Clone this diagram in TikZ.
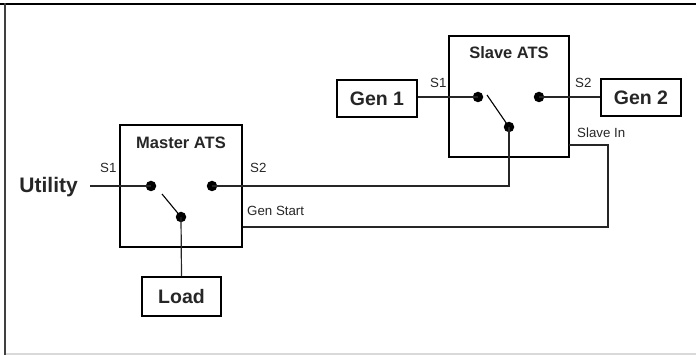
\documentclass[tikz,border=0pt]{standalone}
\usepackage{fontspec}
\setmainfont{Liberation Sans}
\begin{document}
\begin{tikzpicture}[x=1pt,y=-1pt,
  box/.style={draw=black,line width=1.2pt,inner sep=0pt,fill=none},
  bigtxt/.style={font=\fontsize{19.5}{22}\selectfont\bfseries,text=black!85,inner sep=0pt},
  ttltxt/.style={font=\fontsize{16.5}{18}\selectfont\bfseries,text=black!85,inner sep=0pt},
  smalltxt/.style={font=\fontsize{13.3}{15}\selectfont,text=black!85,inner sep=0pt,anchor=west},
  pin/.style={circle,fill=black,inner sep=0pt,minimum size=10.5pt},
  wire/.style={line width=1.2pt,draw=black!85},
  blade/.style={line width=1.1pt,draw=black}]
\useasboundingbox (0,0) rectangle (696,355);
% frame
\draw[line width=2pt,black] (0,4.5) -- (696,4.5);
\draw[line width=2pt,black!75] (4.5,3.5) -- (4.5,355);
\draw[line width=2pt,black!15] (5.5,353.5) -- (696,353.5);
% boxes
\node[box,minimum width=122pt,minimum height=122pt] (master) at (181,186) {};
\node[box,minimum width=120pt,minimum height=121pt] (slave) at (509,96.5) {};
\node[box,minimum width=80pt,minimum height=37pt] (gen1) at (377,98.5) {};
\node[bigtxt] at (gen1) {Gen 1};
\node[box,minimum width=80pt,minimum height=37pt] (gen2) at (641,97.5) {};
\node[bigtxt] at (gen2) {Gen 2};
\node[box,minimum width=79pt,minimum height=39pt] (load) at (181.5,296.5) {};
\node[bigtxt] at (load) {Load};
\node[ttltxt] (mtitle) at (181,143) {Master ATS};
\node[ttltxt] (stitle) at (509,53) {Slave ATS};
\node[bigtxt,font=\fontsize{21}{24}\selectfont\bfseries,anchor=east] (util) at (78,187) {Utility};
% pins
\node[pin] (m1) at (151,186) {};
\node[pin] (m2) at (212,186) {};
\node[pin] (mc) at (181,217) {};
\node[pin] (s1) at (478,97) {};
\node[pin] (s2) at (539,97) {};
\node[pin] (sc) at (509,127) {};
\coordinate (mb) at (162,194);
\coordinate (sb) at (487,95);
\coordinate (gsR) at (608,227);
\coordinate (siL) at (569,145);
% labels
\node[smalltxt] (lms1) at (100,168) {S1};
\node[smalltxt] (lms2) at (250,168) {S2};
\node[smalltxt] (lgs) at (247,211) {Gen Start};
\node[smalltxt] (lss1) at (430,83) {S1};
\node[smalltxt] (lss2) at (575,83) {S2};
\node[smalltxt] (lsi) at (577,133) {Slave In};
% wires
\draw[wire] ([xshift=12pt]util.east |- m1) -- (m1.center);
\draw[wire] (m2.center) -| (sc.center);
\draw[wire] (mc.center) -- (load.north);
\draw[wire] (master.east |- gsR) -- (gsR) |- (siL);
\draw[wire] (gen1.east |- s1) -- (s1.center);
\draw[wire] (s2.center) -- (gen2.west |- s2);
\draw[blade] (mb) -- (mc.center);
\draw[blade] (sb) -- (sc.center);
\end{tikzpicture}
\end{document}
